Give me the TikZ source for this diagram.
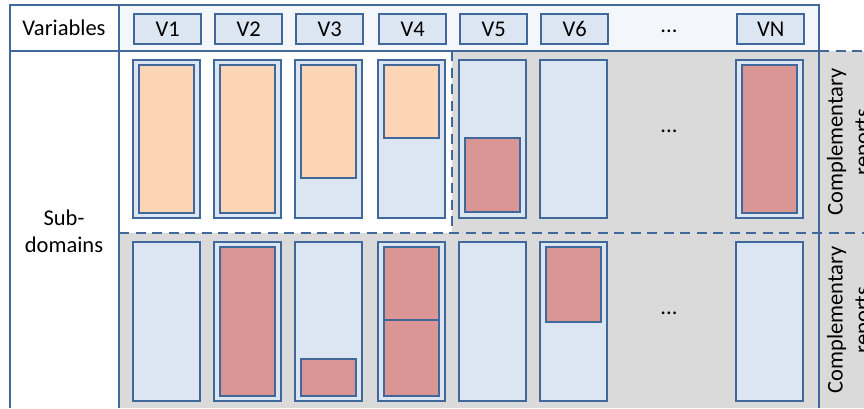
\documentclass[tikz,border=0pt]{standalone}
\usepackage{fontspec}
\setmainfont{Carlito}
\usetikzlibrary{positioning}
\definecolor{lineblue}{RGB}{65,104,154}
\definecolor{barblue}{RGB}{220,230,242}
\definecolor{peach}{RGB}{251,213,181}
\definecolor{rose}{RGB}{217,150,148}
\definecolor{greyfill}{RGB}{218,218,218}
\definecolor{headfill}{RGB}{243,246,250}

\begin{document}
\begin{tikzpicture}[x=1pt,y=-1pt,
	gridline/.style={draw=lineblue,line width=2.4pt},
	dashline/.style={draw=lineblue,line width=2.4pt,dash pattern=on 10pt off 6.5pt},
	barbox/.style={draw=lineblue,line width=2.4pt,fill=barblue},
	fillbox/.style={draw=lineblue,line width=2.4pt},
	varbox/.style={barbox,minimum width=67pt,minimum height=30pt,inner sep=0pt},
	txt/.style={font=\fontsize{22.5}{27}\selectfont,align=center,inner sep=0pt}]
	\useasboundingbox (0,0) rectangle (864,408);
	\clip (0,0) rectangle (864,408);
	\fill[headfill] (119,5) rectangle (819,51);
	\fill[greyfill] (452,51) rectangle (864,233);
	\fill[greyfill] (119,233) rectangle (864,408);
	\draw[gridline] (10,408) -- (10,5) -- (819,5) -- (819,408);
	\draw[gridline] (10,51) -- (819,51);
	\draw[gridline] (119,5) -- (119,408);
	\draw[dashline] (819,51) -- (864,51);
	\draw[dashline] (452,51) -- (452,233);
	\draw[dashline] (119,233) -- (864,233);
	\node[txt] (variables) at (64,28) {Variables};
	\node[txt] (subdomains) at (64,231) {Sub-\\domains};
	\node[txt,rotate=90] (compltop) at (850,142) {Complementary\\reports};
	\node[txt,rotate=90] (complbot) at (850,320) {Complementary\\reports};
	\foreach \n/\x in {1/133,2/214,3/295,4/378,5/459,6/540,N/736} {
		\node[varbox,txt,anchor=north west] (v\n) at (\x,13) {V\n};
		\draw[barbox] (\x,60) rectangle +(67,158);
		\draw[barbox] (\x,242) rectangle +(67,159);
	}
	\node[txt] (dotshead) at (669,31) {...};
	\node[txt] (dotstop) at (669,131) {...};
	\node[txt] (dotsbot) at (669,313) {...};
	\foreach \x/\ya/\yb/\c in {133/65/213/peach,214/65/213/peach,295/65/178/peach,378/65/138/peach,
		459/138/212/rose,736/65/213/rose,214/247/396/rose,295/359/396/rose,378/247/320/rose,
		378/320/396/rose,540/247/322/rose}
		\draw[fillbox,fill=\c] (\x+6,\ya) rectangle (\x+61,\yb);
\end{tikzpicture}
\end{document}
